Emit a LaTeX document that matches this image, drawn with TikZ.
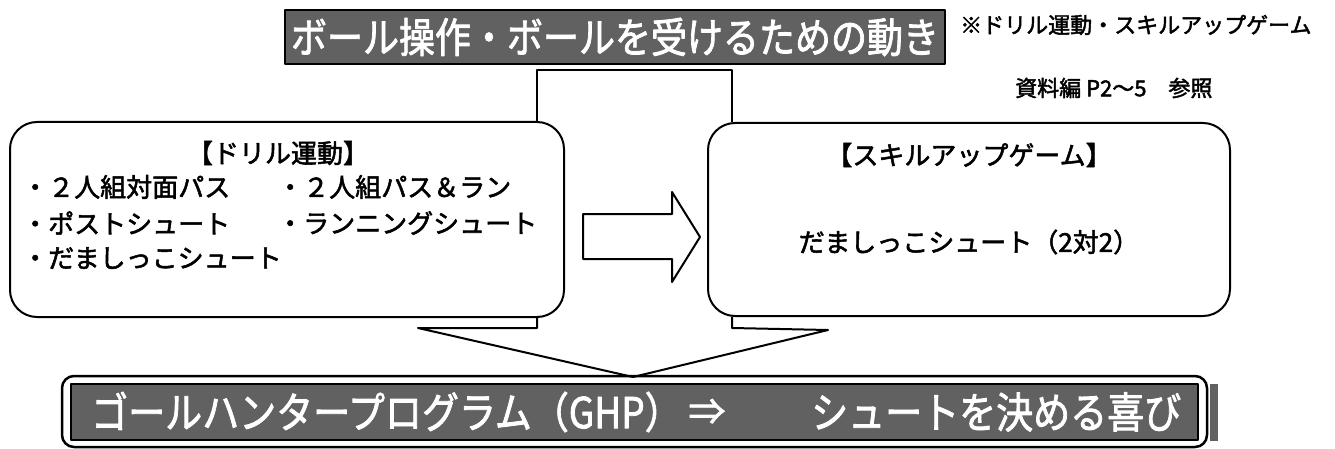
\documentclass[tikz,border=0pt]{standalone}
\usepackage{fontspec}
\usepackage{graphicx}
\newfontfamily\jp{Noto Sans CJK JP}
\newfontfamily\jpb[FakeBold=2]{Noto Sans CJK JP}
\begin{document}
\begin{tikzpicture}[x=1pt,y=-1pt,line join=round,
  roundbox/.style={draw=black,line width=2pt,rounded corners=27pt,inner sep=0pt},
  banner/.style={draw=black,line width=2pt,fill=black!62,inner sep=0pt},
  btext/.style={text=white,inner sep=0pt,font=\jpb\fontsize{37}{37}\selectfont},
  boxtext/.style={inner sep=0pt,font=\jpb\fontsize{26}{26}\selectfont},
  note/.style={inner sep=0pt,anchor=west,font=\jpb\fontsize{22}{22}\selectfont},
  link/.style={draw=black,line width=2pt}]
\useasboundingbox (0,0) rectangle (1335,449);

% top banner
\node[banner,minimum width=660pt,minimum height=54pt] (top) at (615,37) {};
\node[btext,font=\jpb\fontsize{36}{36}\selectfont] (toptxt) at (615,37) {\scalebox{1}[1.15]{ボール操作・ボールを受けるための動き}};

% notes
\node[note] (note1) at (960,25) {※ドリル運動・スキルアップゲーム};
\node[note] (note2) at (1015,88) {資料編 P2～5　参照};

% boxes
\node[roundbox,minimum width=554pt,minimum height=195pt] (lbox) at (287,219.5) {};
\node[roundbox,minimum width=522pt,minimum height=193pt] (rbox) at (969,219.5) {};

% left box text
\node[boxtext] (ltitle) at (278,153) {【ドリル運動】};
\node[boxtext,anchor=west] (l1) at (22,187) {・２人組対面パス};
\node[boxtext,anchor=west] (l2) at (277,187) {・２人組パス＆ラン};
\node[boxtext,anchor=west] (l3) at (22,223) {・ポストシュート};
\node[boxtext,anchor=west] (l4) at (277,223) {・ランニングシュート};
\node[boxtext,anchor=west] (l5) at (22,258) {・だましっこシュート};

% right box text
\node[boxtext] (rtitle) at (969,155) {【スキルアップゲーム】};
\node[boxtext] (rtext) at (969,242) {だましっこシュート（2対2）};

% block arrow between boxes
\draw[line width=2pt] (583,214) -- (672,214) -- (672,192) -- (700,237) -- (672,282) -- (672,259) -- (583,259) -- cycle;

% top bracket
\coordinate (tl) at (537,70);
\coordinate (tr) at (732,70);
\draw[link] (lbox.north -| tl) -- (tl) -- (tr) -- (rbox.north -| tr);

% bottom banner
\node[draw=black,line width=2.5pt,rounded corners=12pt,minimum width=1145pt,minimum height=71pt,inner sep=0pt] (bot) at (634.5,411.5) {};
\node[banner,line width=1.5pt,minimum width=1127pt,minimum height=56pt] (botin) at (634.5,412) {};
\fill[black!62] (1210,384) rectangle (1218,441);
\node[btext,anchor=west] (ghp) at (91,412) {\scalebox{1}[1.15]{ゴールハンタープログラム（GHP）}};
\node[btext] (imp) at (707,412) {⇒};
\node[btext,anchor=west] (joy) at (811,412) {\scalebox{1}[1.15]{シュートを決める喜び}};

% bottom callout tails
\coordinate (tip) at (633,377);
\coordinate (lt1) at (537,328);
\coordinate (lt2) at (418,328);
\coordinate (rt1) at (732,328);
\coordinate (rt2) at (828,330);
\draw[link] (lbox.south -| lt1) -- (lt1) -- (lt2) -- (tip);
\draw[link] (rbox.south -| rt1) -- (rt1) -- (rt2) -- (tip);
\end{tikzpicture}
\end{document}
